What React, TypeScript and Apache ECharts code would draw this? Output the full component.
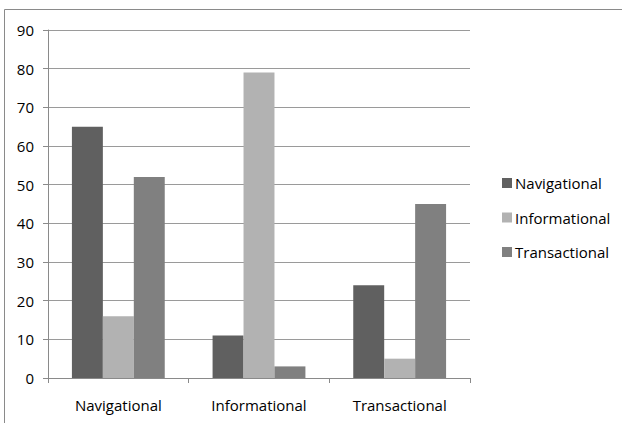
import React, { useEffect, useRef } from "react";
import * as echarts from "echarts";

const categories = ["Navigational", "Informational", "Transactional"];
const seriesNames = ["Navigational", "Informational", "Transactional"];
const navigationalValues = [65, 11, 24];
const informationalValues = [16, 79, 5];
const transactionalValues = [52, 3, 45];
const seriesColors = ["#606060", "#b2b2b2", "#808080"];

export default function App() {
  const ref = useRef<HTMLDivElement>(null);
  useEffect(() => {
    if (!ref.current) return;
    const chart = echarts.init(ref.current, null, { renderer: "svg" });
    const values = [navigationalValues, informationalValues, transactionalValues];
    chart.setOption({
      animation: false,
      backgroundColor: "#ffffff",
      textStyle: { fontFamily: "Open Sans" },
      graphic: [
        { type: "line", shape: { x1: 4.5, y1: 9.5, x2: 622, y2: 9.5 }, style: { stroke: "#8a8a8a", lineWidth: 1 } },
        { type: "line", shape: { x1: 4.5, y1: 9.5, x2: 4.5, y2: 423 }, style: { stroke: "#8a8a8a", lineWidth: 1 } },
      ],
      grid: { left: 48, top: 30, right: 152, bottom: 45 },
      legend: {
        orient: "vertical",
        left: 497,
        top: 170.5,
        itemWidth: 10,
        itemHeight: 10,
        itemGap: 19.5,
        icon: "rect",
        data: seriesNames,
        textStyle: { fontSize: 15, lineHeight: 15, color: "#000", fontFamily: "Open Sans", padding: [0, 0, 0, -2] },
      },
      xAxis: {
        type: "category",
        data: categories,
        axisLine: { lineStyle: { color: "#8a8a8a", width: 1 } },
        axisTick: { show: true, length: 5, lineStyle: { color: "#8a8a8a" } },
        axisLabel: { fontSize: 15, color: "#000", margin: 19 },
      },
      yAxis: {
        type: "value",
        min: 0,
        max: 90,
        interval: 10,
        axisLine: { show: true, lineStyle: { color: "#8a8a8a", width: 1 } },
        axisTick: { show: true, length: 5, lineStyle: { color: "#8a8a8a" } },
        axisLabel: { fontSize: 15, color: "#000", margin: 14 },
        splitLine: { lineStyle: { color: "#9a9a9a", width: 1 } },
      },
      series: seriesNames.map((name, i) => ({
        name,
        type: "bar",
        data: values[i],
        barGap: "0%",
        barCategoryGap: "34%",
        itemStyle: { color: seriesColors[i] },
      })),
    });
    return () => chart.dispose();
  }, []);
  return (
    <div
      ref={ref}
      style={{ position: "absolute", left: 0, top: 0, width: 622, height: 423 }}
    />
  );
}
